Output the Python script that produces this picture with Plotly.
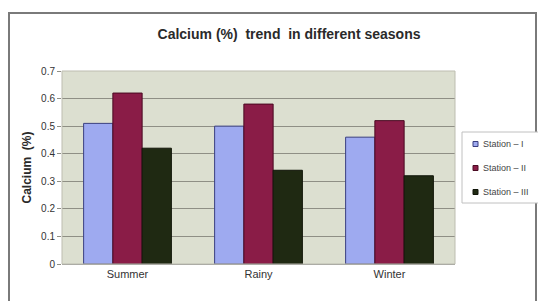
import plotly.graph_objects as go

seasons = ["Summer", "Rainy", "Winter"]
station_names = ["Station – I", "Station – II", "Station – III"]
station_1 = [0.51, 0.50, 0.46]
station_2 = [0.62, 0.58, 0.52]
station_3 = [0.42, 0.34, 0.32]
y_ticks = [0, 0.1, 0.2, 0.3, 0.4, 0.5, 0.6, 0.7]

colors = ["#9eaaf0", "#8a1c47", "#1f2912"]
outlines = ["#3a3f80", "#4a0a22", "#101508"]

fig = go.Figure()
for name, vals, c, oc in zip(station_names, [station_1, station_2, station_3], colors, outlines):
    fig.add_trace(go.Bar(x=seasons, y=vals, name=name,
                         marker=dict(color=c, line=dict(color=oc, width=1))))

W, H = 538, 301
L, R, T, B = 62, 83, 71, 37
pw, ph = W - L - R, H - T - B

def px_x(p):
    return (p - L) / pw

def px_y(p):
    return (H - B - p) / ph

fig.update_layout(
    width=W, height=H,
    margin=dict(l=L, r=R, t=T, b=B, autoexpand=False),
    paper_bgcolor="white",
    plot_bgcolor="#dcdfd0",
    barmode="group",
    bargap=0.33,
    bargroupgap=0,
    showlegend=False,
    font=dict(family="Liberation Sans, Arial, sans-serif", size=9, color="#333333"),
    title=dict(text="<b>Calcium (%)  trend  in different seasons</b>", x=px_x(289), xref="paper",
               xanchor="center", y=1 - 34 / H, yanchor="middle",
               font=dict(size=14, color="#2a2a2a")),
    xaxis=dict(showgrid=False, showline=True, linecolor="#9a9a9a", ticks="",
               tickfont=dict(size=11, color="#333333")),
    yaxis=dict(range=[0, 0.7], tickvals=y_ticks, ticktext=[f"{v:g}" for v in y_ticks],
               showgrid=True, gridcolor="#8f8f85", gridwidth=1, zeroline=False,
               showline=False, ticks="outside", ticklen=4, tickcolor="#8f8f85",
               tickfont=dict(size=10, color="#333333"),
               title=dict(text="<b>Calcium  (%)</b>", font=dict(size=12, color="#2a2a2a"), standoff=6)),
)

# outer chart frame
fig.add_shape(type="rect", xref="paper", yref="paper",
              x0=px_x(9), x1=px_x(536), y0=px_y(302), y1=px_y(13),
              line=dict(color="#7a7a7a", width=2), layer="below")
# plot area frame
fig.add_shape(type="rect", xref="paper", yref="paper", x0=0, x1=1, y0=0, y1=1,
              line=dict(color="#bdbdb0", width=1))

# legend box (manual, compact like the original)
fig.add_shape(type="rect", xref="paper", yref="paper",
              x0=px_x(462), x1=px_x(540), y0=px_y(203), y1=px_y(132),
              line=dict(color="#c0c0c0", width=1), fillcolor="white")
item_y = [144, 168, 192]
for name, c, oc, yy in zip(station_names, colors, outlines, item_y):
    fig.add_shape(type="rect", xref="paper", yref="paper",
                  x0=px_x(473), x1=px_x(478), y0=px_y(yy + 2.5), y1=px_y(yy - 2.5),
                  fillcolor=c, line=dict(color=oc, width=1))
    fig.add_annotation(text=name, xref="paper", yref="paper", x=px_x(481), y=px_y(yy),
                       xanchor="left", yanchor="middle", showarrow=False,
                       font=dict(size=9, color="#444444"))

fig.write_html("out.html", config={"displayModeBar": False},
               post_script="document.body.style.margin='0';")
